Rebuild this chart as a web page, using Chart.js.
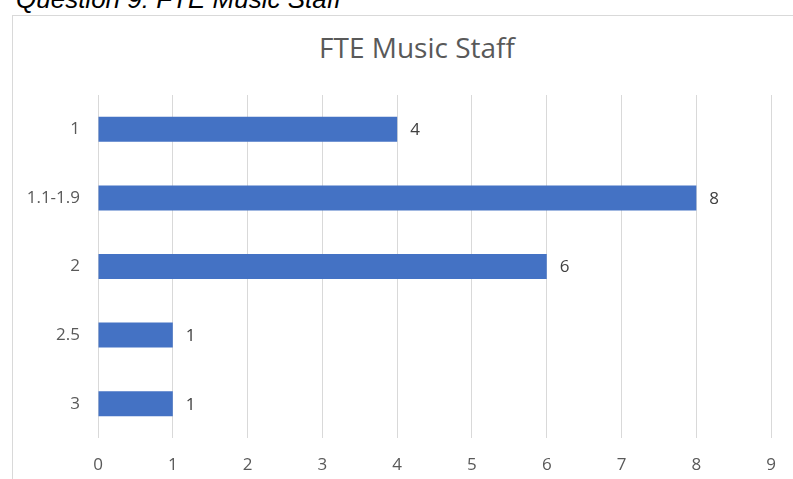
<!DOCTYPE html>
<html>
<head>
<meta charset="utf-8">
<script src="https://cdn.jsdelivr.net/npm/chart.js@4"></script>
<style>
  html, body { margin: 0; padding: 0; background: #fff; overflow: hidden; }
  body { width: 793px; height: 479px; position: relative; }
  #header { position: absolute; left: 16px; top: -14px; font: italic 26px "Liberation Sans", Arial, sans-serif; line-height: 26px; color: #000; white-space: nowrap; }
  #box { position: absolute; left: 12px; top: 15px; width: 820px; height: 500px; border: 1px solid #d9d9d9; box-sizing: border-box; }
  #title { position: absolute; left: 267px; width: 300px; top: 33px; text-align: center; font: 28px "Open Sans", sans-serif; line-height: 28px; color: #595959; white-space: nowrap; }
  #wrap { position: absolute; left: 0; top: 0; width: 793px; height: 479px; }
</style>
</head>
<body>
<div id="header">Question 9: FTE Music Staff</div>
<div id="box"></div>
<div id="title">FTE Music Staff</div>
<div id="wrap"><canvas id="c" width="793" height="479"></canvas></div>
<script>
const categories = ["1", "1.1-1.9", "2", "2.5", "3"];
const values = [4, 8, 6, 1, 1];
const xTicks = [0, 1, 2, 3, 4, 5, 6, 7, 8, 9];

const labelPlugin = {
  id: 'barLabels',
  afterDatasetsDraw(chart) {
    const ctx = chart.ctx;
    const meta = chart.getDatasetMeta(0);
    ctx.save();
    ctx.font = '17px "Open Sans", sans-serif';
    ctx.fillStyle = '#404040';
    ctx.textAlign = 'left';
    ctx.textBaseline = 'middle';
    meta.data.forEach((bar, i) => {
      ctx.fillText(String(values[i]), bar.x + 13, bar.y + 1);
    });
    ctx.restore();
  }
};

new Chart(document.getElementById('c'), {
  type: 'bar',
  data: {
    labels: categories,
    datasets: [{
      data: values,
      backgroundColor: '#4472C4',
      borderWidth: 0,
      barPercentage: 0.73,
      categoryPercentage: 0.5
    }]
  },
  options: {
    indexAxis: 'y',
    responsive: false,
    animation: false,
    layout: { padding: { left: 0, right: 15, top: 95, bottom: 0 } },
    plugins: { legend: { display: false }, tooltip: { enabled: false }, title: { display: false } },
    scales: {
      x: {
        min: 0, max: 9,
        afterBuildTicks(scale) { scale.ticks = xTicks.map(v => ({ value: v })); },
        afterFit(scale) { scale.height = 41; },
        grid: { color: '#d9d9d9', lineWidth: 1, drawTicks: false },
        border: { display: false },
        ticks: { padding: 17, color: '#595959', font: { size: 17, family: '"Open Sans", sans-serif' } }
      },
      y: {
        afterFit(scale) { scale.width = 98; },
        grid: { display: false, drawTicks: false },
        border: { display: false },
        ticks: { padding: 18, color: '#595959', font: { size: 17, family: '"Open Sans", sans-serif' } }
      }
    }
  },
  plugins: [labelPlugin]
});
</script>
</body>
</html>
